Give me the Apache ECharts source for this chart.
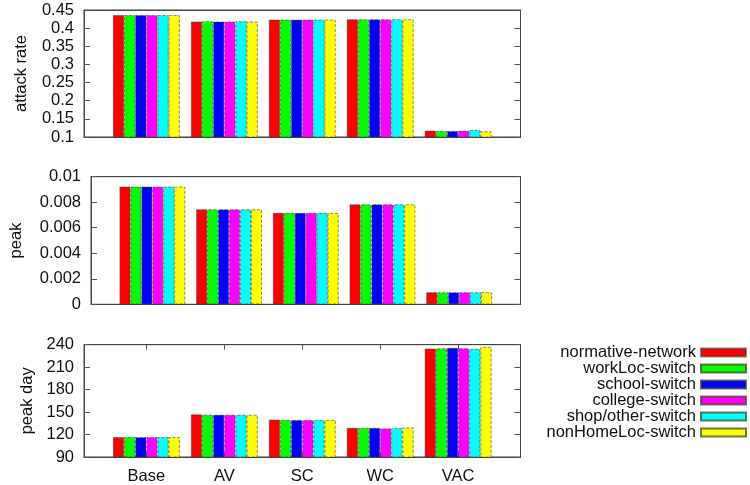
<!DOCTYPE html>
<html><head><meta charset="utf-8">
<script src="https://cdn.jsdelivr.net/npm/echarts@6/dist/echarts.min.js"></script>
<style>html,body{margin:0;padding:0;background:#fff}#c{width:750px;height:485px}</style>
</head><body><div id="c"></div>
<script>
const categories = ['Base', 'AV', 'SC', 'WC', 'VAC'];
const seriesNames = ['normative-network', 'workLoc-switch', 'school-switch', 'college-switch', 'shop/other-switch', 'nonHomeLoc-switch'];
const colors = ['#ff0000', '#00ff00', '#0000ff', '#ff00ff', '#00ffff', '#ffff00'];

const attackRate = [
  [0.436, 0.418, 0.4234, 0.4243, 0.1174],
  [0.436, 0.419, 0.4234, 0.4243, 0.1165],
  [0.436, 0.418, 0.4234, 0.4243, 0.1165],
  [0.436, 0.418, 0.4234, 0.4243, 0.1174],
  [0.436, 0.419, 0.4234, 0.4243, 0.1193],
  [0.436, 0.418, 0.4234, 0.4243, 0.1156]
];
const peak = [
  [0.00922, 0.00744, 0.00716, 0.00783, 0.00094],
  [0.00922, 0.00744, 0.00716, 0.00783, 0.00094],
  [0.00922, 0.00744, 0.00716, 0.00783, 0.00094],
  [0.00922, 0.00744, 0.00716, 0.00783, 0.00094],
  [0.00922, 0.00744, 0.00716, 0.00783, 0.00094],
  [0.00922, 0.00744, 0.00716, 0.00783, 0.00094]
];
const peakDay = [
  [116.5, 146.9, 139.9, 128.9, 234.8],
  [116.5, 146.4, 139.4, 128.9, 235.2],
  [116.5, 146.4, 139.4, 128.9, 235.7],
  [116.5, 146.4, 139.4, 128.1, 235.2],
  [116.5, 146.4, 139.4, 128.5, 234.4],
  [116.5, 146.4, 139.4, 129.4, 237.0]
];
const yTicks1 = {min: 0.1, max: 0.45, interval: 0.05, name: 'attack rate'};
const yTicks2 = {min: 0, max: 0.01, interval: 0.002, name: 'peak'};
const yTicks3 = {min: 90, max: 240, interval: 30, name: 'peak day'};

const font = 'Liberation Sans, Arial, sans-serif';
const fs = 16.5;
const frameColor = '#444';
const tickColor = '#555';
const catIdx = categories.map((c, i) => i);

const grids = [
  {left: 84, right: 229.5, top: 10, height: 127},
  {left: 84, right: 229.5, top: 176.7, height: 127.6},
  {left: 84, right: 229.5, top: 344.7, height: 114.3}
].map(g => Object.assign(g, {show: true, borderColor: frameColor, borderWidth: 1, backgroundColor: 'transparent', containLabel: false}));

const xAxes = [];
const yAxes = [];
const nameGaps = [54, 66, 40];
[yTicks1, yTicks2, yTicks3].forEach((yt, gi) => {
  xAxes.push({
    type: 'value', gridIndex: gi, min: -0.8, max: 4.8, position: 'bottom',
    splitLine: {show: false},
    axisLine: {show: true, onZero: false, lineStyle: {color: frameColor, width: 1}},
    axisTick: {show: gi === 2, inside: true, length: 5, customValues: catIdx, lineStyle: {color: tickColor}},
    axisLabel: {show: gi === 2, customValues: catIdx, margin: 11, fontSize: fs, fontFamily: font, color: '#111',
      formatter: v => categories[Math.round(v)] || ''}
  });
  xAxes.push({
    type: 'value', gridIndex: gi, min: -0.8, max: 4.8, position: 'top',
    splitLine: {show: false},
    axisLine: {show: true, onZero: false, lineStyle: {color: frameColor, width: 1}},
    axisTick: {show: gi === 2, inside: true, length: 5, customValues: catIdx, lineStyle: {color: tickColor}},
    axisLabel: {show: false}
  });
  yAxes.push({
    type: 'value', gridIndex: gi, min: yt.min, max: yt.max, interval: yt.interval, position: 'left',
    name: yt.name, nameLocation: 'middle', nameGap: nameGaps[gi], nameRotate: 90,
    nameTextStyle: {fontSize: fs, fontFamily: font, color: '#111'},
    splitLine: {show: false},
    axisLine: {show: true, onZero: false, lineStyle: {color: frameColor, width: 1}},
    axisTick: {show: true, inside: true, length: 6, lineStyle: {color: tickColor}},
    axisLabel: {margin: 10, fontSize: fs, fontFamily: font, color: '#111'}
  });
  yAxes.push({
    type: 'value', gridIndex: gi, min: yt.min, max: yt.max, interval: yt.interval, position: 'right',
    splitLine: {show: false},
    axisLine: {show: true, onZero: false, lineStyle: {color: frameColor, width: 1}},
    axisTick: {show: true, inside: true, length: 6, lineStyle: {color: tickColor}},
    axisLabel: {show: false}
  });
});

const datasets = [attackRate, peak, peakDay];
const series = [];
datasets.forEach((ds, gi) => {
  seriesNames.forEach((name, si) => {
    series.push({
      type: 'bar', name: name,
      xAxisIndex: gi * 2, yAxisIndex: gi * 2,
      barGap: '0%', barCategoryGap: '14.3%',
      itemStyle: {color: colors[si], borderColor: si === 0 ? 'rgba(60,60,60,0.6)' : 'rgba(70,70,40,0.75)', borderWidth: 0.8, borderType: si === 0 ? 'solid' : 'dashed'},
      emphasis: {disabled: true},
      data: ds[si].map((v, ci) => [catIdx[ci], v])
    });
  });
});

const chart = echarts.init(document.getElementById('c'), null, {renderer: 'canvas'});
chart.setOption({
  animation: false,
  backgroundColor: '#fff',
  grid: grids,
  xAxis: xAxes,
  yAxis: yAxes,
  legend: {
    data: seriesNames, orient: 'vertical', align: 'right', right: 3, top: 344,
    itemWidth: 45, itemHeight: 8, itemGap: -1,
    icon: 'rect',
    textStyle: {fontSize: fs, fontFamily: font, color: '#111', lineHeight: 16, padding: [0, 0, 0, 0]},
    padding: 0
  },
  series: series
});
</script></body></html>
